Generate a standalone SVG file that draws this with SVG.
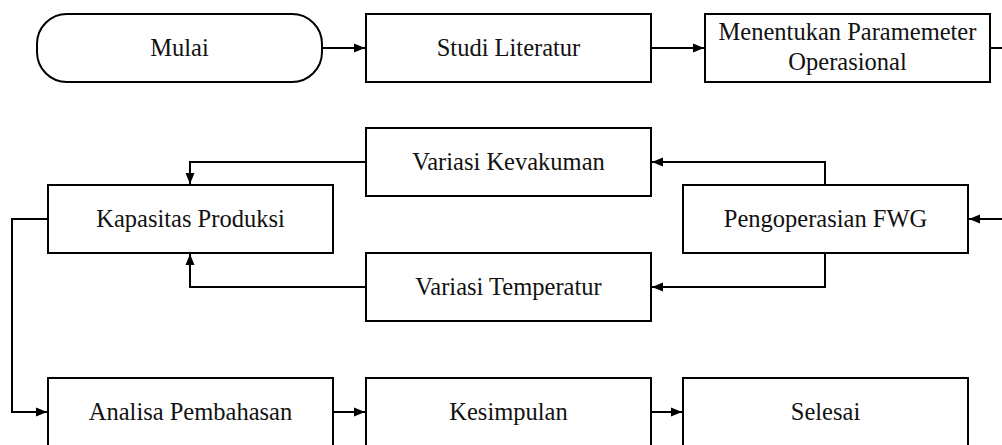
<svg xmlns="http://www.w3.org/2000/svg" width="1002" height="445" viewBox="0 0 1002 445">
<style>
.box{fill:#fff;stroke:#000;stroke-width:2}
.lbl{font-family:"Liberation Serif","Times New Roman",serif;font-size:24.5px;fill:#111;text-anchor:middle}
.con{fill:none;stroke:#000;stroke-width:2}
</style>
<defs>
<marker id="ah" viewBox="0 0 11 10" refX="11" refY="5" markerWidth="11" markerHeight="10" markerUnits="userSpaceOnUse" orient="auto">
<path d="M0,0.5 L11,5 L0,9.5 Z" fill="#000"/>
</marker>
</defs>
<rect width="1002" height="445" fill="#fff"/>
<g id="connectors">
<path class="con" d="M322,48 H365" marker-end="url(#ah)"/>
<path class="con" d="M651,48 H704" marker-end="url(#ah)"/>
<path class="con" d="M990,48 H1010 V219 H969" marker-end="url(#ah)"/>
<path class="con" d="M825,185 V162 H652" marker-end="url(#ah)"/>
<path class="con" d="M825,253 V287 H652" marker-end="url(#ah)"/>
<path class="con" d="M366,162 H190 V184" marker-end="url(#ah)"/>
<path class="con" d="M366,287 H190 V254" marker-end="url(#ah)"/>
<path class="con" d="M48,219 H12 V412 H47" marker-end="url(#ah)"/>
<path class="con" d="M333,412 H365" marker-end="url(#ah)"/>
<path class="con" d="M651,412 H682" marker-end="url(#ah)"/>
</g>
<g id="mulai"><rect class="box" x="37" y="14" width="285" height="68" rx="30" ry="30"/><text class="lbl" x="179.5" y="56">Mulai</text></g>
<g id="studi"><rect class="box" x="366" y="14" width="285" height="68"/><text class="lbl" x="508.5" y="56">Studi Literatur</text></g>
<g id="menentukan"><rect class="box" x="705" y="14" width="285" height="68"/><text class="lbl" x="847.5" y="40">Menentukan Paramemeter</text><text class="lbl" x="847.5" y="70">Operasional</text></g>
<g id="kevakuman"><rect class="box" x="366" y="128" width="285" height="68"/><text class="lbl" x="508.5" y="170">Variasi Kevakuman</text></g>
<g id="kapasitas"><rect class="box" x="48" y="185" width="285" height="68"/><text class="lbl" x="190.5" y="227">Kapasitas Produksi</text></g>
<g id="pengoperasian"><rect class="box" x="683" y="185" width="285" height="68"/><text class="lbl" x="825.5" y="227">Pengoperasian FWG</text></g>
<g id="temperatur"><rect class="box" x="366" y="253" width="285" height="68"/><text class="lbl" x="508.5" y="295">Variasi Temperatur</text></g>
<g id="analisa"><rect class="box" x="48" y="378" width="285" height="68"/><text class="lbl" x="190.5" y="420">Analisa Pembahasan</text></g>
<g id="kesimpulan"><rect class="box" x="366" y="378" width="285" height="68"/><text class="lbl" x="508.5" y="420">Kesimpulan</text></g>
<g id="selesai"><rect class="box" x="683" y="378" width="285" height="68"/><text class="lbl" x="825.5" y="420">Selesai</text></g>
</svg>
